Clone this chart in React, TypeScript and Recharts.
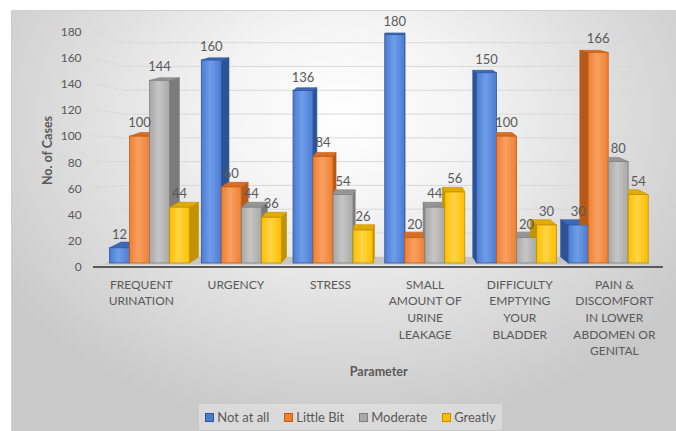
import React from 'react';
import { BarChart, Bar, XAxis, YAxis, CartesianGrid, LabelList } from 'recharts';

const categories = [
  'FREQUENT\nURINATION',
  'URGENCY',
  'STRESS',
  'SMALL\nAMOUNT OF\nURINE\nLEAKAGE',
  'DIFFICULTY\nEMPTYING\nYOUR\nBLADDER',
  'PAIN &\nDISCOMFORT\nIN LOWER\nABDOMEN OR\nGENITAL',
];
const notAtAll = [12, 160, 136, 180, 150, 30];
const littleBit = [100, 60, 84, 20, 100, 166];
const moderate = [144, 44, 54, 44, 20, 80];
const greatly = [44, 36, 26, 56, 30, 54];
const yTicks = [0, 20, 40, 60, 80, 100, 120, 140, 160, 180];

const series = [
  { key: 'notAtAll', name: 'Not at all', values: notAtAll, front: '#4a7cd4', light: '#6f9de8', side: '#2c5394', top: '#3c68b8', edge: '#2f5597' },
  { key: 'littleBit', name: 'Little Bit', values: littleBit, front: '#ee8030', light: '#f7a062', side: '#b65a1b', top: '#d66e27', edge: '#c55a11' },
  { key: 'moderate', name: 'Moderate', values: moderate, front: '#a8a8a8', light: '#c6c6c6', side: '#7b7b7b', top: '#959595', edge: '#7f7f7f' },
  { key: 'greatly', name: 'Greatly', values: greatly, front: '#ffbf00', light: '#ffd447', side: '#c39200', top: '#e3aa00', edge: '#bf9000' },
];

const data = categories.map((name, i) => {
  const row: Record<string, string | number> = { name };
  series.forEach((s) => (row[s.key] = s.values[i]));
  return row;
});

// layout (chart px, panel origin)
const W = 665;
const H = 421;
const PLOT = { left: 92.6, right: 642.9, top: 22, bottom: 257 };
const PLOT_H = PLOT.bottom - PLOT.top;
const Y_AXIS_W = 60;
const X_AXIS_H = 120;

// 3D illusion: bars sit a bit above the value axis floor, back wall sits lower still
const BAR_DOMAIN: [number, number] = [-3.154, 182.13];
const GRID_DOMAIN: [number, number] = [-8.58, 188.99];
const VP_X = 385;
const DX_K = 0.0415;
const EYE_Y = -72.7;
const DY_K = 0.0183;

const TEXT = '#595959';
const FONT = 'Lato, "Open Sans", sans-serif';

function Bar3D(props: any) {
  const { x, y, width: w, height: h, payload, s } = props;
  if (!h || h <= 0) return null;
  const c = series[s];
  const idx = categories.indexOf(payload.name);
  const yb = y + h;
  const ddx = (VP_X - (x + w / 2)) * DX_K;
  const dyTop = -(y - EYE_Y) * DY_K;
  const dyBot = -(yb - EYE_Y) * DY_K;
  const sx = ddx >= 0 ? x + w : x;
  const top = `M${x},${y}L${x + w},${y}L${x + w + ddx},${y + dyTop}L${x + ddx},${y + dyTop}Z`;
  const side = `M${sx},${y}L${sx + ddx},${y + dyTop}L${sx + ddx},${yb + dyBot}L${sx},${yb}Z`;

  let clipId: string | undefined;
  let clipPath = null;
  if (ddx < 0 && s > 0) {
    // the left neighbour stands in front of this bar's left side
    const ppu = h / Number(payload[c.key]);
    const prevTop = yb - Number(payload[series[s - 1].key]) * ppu;
    clipId = `occ-${s}-${idx}`;
    clipPath = (
      <clipPath id={clipId}>
        <path
          clipRule="evenodd"
          d={`M-1000,-1000H2000V2000H-1000Z M${x - w - 2},${prevTop}H${x}V${yb + 20}H${x - w - 2}Z`}
        />
      </clipPath>
    );
  }

  return (
    <g>
      {clipPath && <defs>{clipPath}</defs>}
      <g clipPath={clipId ? `url(#${clipId})` : undefined}>
        <path d={side} fill={c.side} stroke={c.edge} strokeWidth={0.6} />
        <path d={top} fill={c.top} stroke={c.edge} strokeWidth={0.6} />
      </g>
      <rect x={x} y={y} width={w} height={h} fill={`url(#front-${s})`} stroke={c.edge} strokeWidth={0.8} />
    </g>
  );
}

function gridLine(p: any) {
  const v = GRID_DOMAIN[0] + ((PLOT.bottom - p.y1) / PLOT_H) * (GRID_DOMAIN[1] - GRID_DOMAIN[0]);
  const yAxisLevel = PLOT.bottom - (v / 180) * PLOT_H;
  const key = `g-${Math.round(v)}`;
  if (Math.abs(v) < 0.5) {
    const front = PLOT.bottom - 2.5;
    return (
      <g key={key}>
        <path
          d={`M${p.x1},${front}L${p.x1 + 19.4},${p.y1}L${p.x2 - 21},${p.y1}L${p.x2 + 1},${front}Z`}
          fill="#c6c6c6"
        />
        <line x1={p.x1 - 10.6} y1={PLOT.bottom} x2={p.x2 + 9} y2={PLOT.bottom} stroke="#5a5a5a" strokeWidth={2} />
      </g>
    );
  }
  return (
    <path
      key={key}
      d={`M${p.x1 - 10.6},${yAxisLevel - 1}L${p.x1 + 19.4},${p.y1}L${p.x2 - 21},${p.y1}`}
      fill="none"
      stroke="#d9d9d9"
      strokeWidth={1}
    />
  );
}

function CategoryTick(props: any) {
  const { x, y, payload } = props;
  const idx = categories.indexOf(payload.value);
  const cx = x - 0.9 + (idx - 2.5) * 2.9;
  const lines = String(payload.value).split('\n');
  return (
    <text x={cx} y={y + 13.5} textAnchor="middle" fill={TEXT} fontSize={12} fontFamily={FONT}>
      {lines.map((l, i) => (
        <tspan key={i} x={cx} dy={i === 0 ? 0 : 16.7}>
          {l}
        </tspan>
      ))}
    </text>
  );
}

function ValueTick(props: any) {
  const { y, payload } = props;
  return (
    <text x={PLOT.left - 22} y={y} dy={4} textAnchor="end" fill={TEXT} fontSize={12} fontFamily={FONT}>
      {payload.value}
    </text>
  );
}

export default function App() {
  return (
    <div
      style={{
        position: 'absolute',
        left: 11,
        top: 10,
        width: W,
        height: H,
        borderTop: '1px solid #d0d0d0',
        borderLeft: '1px solid #d0d0d0',
        boxSizing: 'border-box',
        background:
          'radial-gradient(ellipse 62% 75% at 50% 25%, #ffffff 0%, #f4f4f4 30%, #dedede 65%, #c9c9c9 100%)',
        fontFamily: FONT,
      }}
    >
      <BarChart
        width={W}
        height={H}
        data={data}
        barSize={20}
        barGap={0}
        margin={{
          top: PLOT.top,
          left: PLOT.left - Y_AXIS_W,
          right: W - PLOT.right,
          bottom: H - PLOT.bottom - X_AXIS_H,
        }}
        style={{ position: 'absolute', left: -1, top: -1 }}
      >
        <defs>
          {series.map((s, i) => (
            <linearGradient key={s.key} id={`front-${i}`} x1="0" y1="0" x2="1" y2="0">
              <stop offset="0%" stopColor={s.front} />
              <stop offset="45%" stopColor={s.light} />
              <stop offset="100%" stopColor={s.front} />
            </linearGradient>
          ))}
        </defs>
        <CartesianGrid yAxisId="grid" vertical={false} horizontal={gridLine} horizontalValues={yTicks} />
        <XAxis
          dataKey="name"
          height={X_AXIS_H}
          axisLine={false}
          tickLine={false}
          interval={0}
          tick={<CategoryTick />}
          label={{
            value: 'Parameter',
            position: 'insideTop',
            offset: 100,
            fill: TEXT,
            fontSize: 12.5,
            fontWeight: 700,
            fontFamily: FONT,
          }}
        />
        <YAxis
          yAxisId="value"
          orientation="left"
          width={Y_AXIS_W}
          domain={[0, 180]}
          ticks={yTicks}
          allowDataOverflow
          axisLine={false}
          tickLine={false}
          tick={<ValueTick />}
        />
        <YAxis yAxisId="bars" orientation="right" width={0} hide domain={BAR_DOMAIN} allowDataOverflow ticks={yTicks} />
        <YAxis yAxisId="grid" orientation="right" width={0} hide domain={GRID_DOMAIN} allowDataOverflow ticks={yTicks} />
        {series.map((s, i) => (
          <Bar
            key={s.key}
            yAxisId="bars"
            dataKey={s.key}
            name={s.name}
            fill={s.front}
            isAnimationActive={false}
            shape={(p: any) => <Bar3D {...p} s={i} />}
          >
            <LabelList dataKey={s.key} position="top" offset={9} fill={TEXT} fontSize={13} fontFamily={FONT} />
          </Bar>
        ))}
      </BarChart>
      <div
        style={{
          position: 'absolute',
          left: 26,
          top: PLOT.top,
          width: 20,
          height: PLOT_H,
          display: 'flex',
          alignItems: 'center',
          justifyContent: 'center',
        }}
      >
        <div
          style={{
            transform: 'rotate(-90deg)',
            whiteSpace: 'nowrap',
            fontSize: 12.5,
            fontWeight: 700,
            color: TEXT,
          }}
        >
          No. of Cases
        </div>
      </div>
      <div
        style={{
          position: 'absolute',
          left: 187,
          top: 393,
          width: 303,
          height: 26,
          background: 'rgba(255,255,255,0.3)',
          display: 'flex',
          alignItems: 'center',
          justifyContent: 'center',
          gap: 15,
          fontSize: 13,
          color: TEXT,
        }}
      >
        {series.map((s) => (
          <div key={s.key} style={{ display: 'flex', alignItems: 'center' }}>
            <span
              style={{
                display: 'inline-block',
                width: 7,
                height: 7,
                background: s.front,
                border: `1px solid ${s.edge}`,
                marginRight: 3,
              }}
            />
            <span>{s.name}</span>
          </div>
        ))}
      </div>
    </div>
  );
}
